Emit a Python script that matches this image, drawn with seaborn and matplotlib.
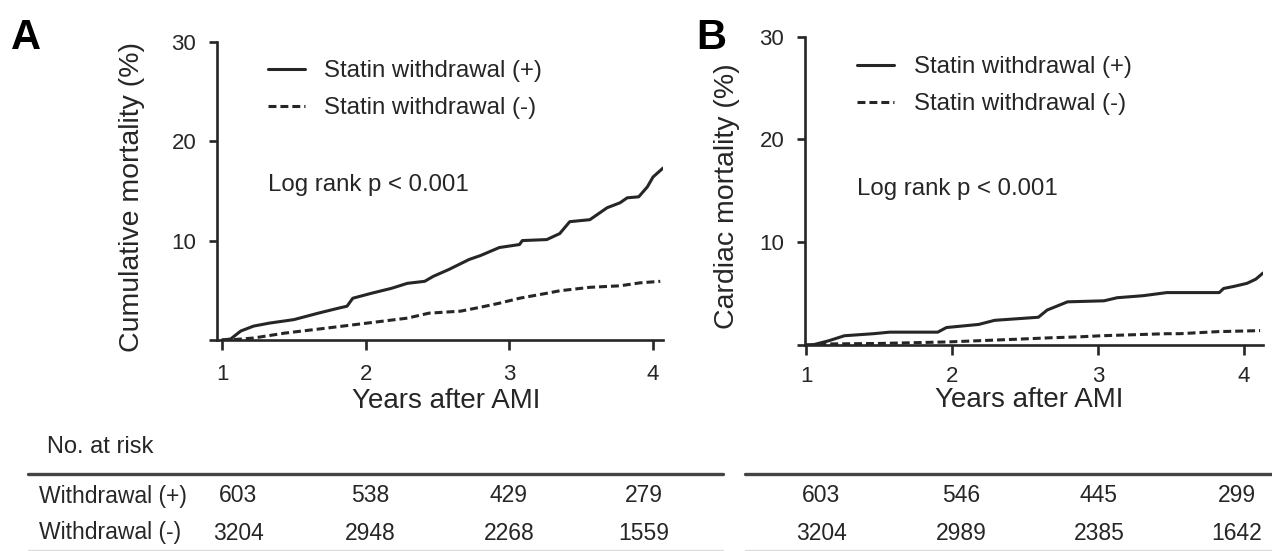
import matplotlib
matplotlib.use("Agg")
import matplotlib.pyplot as plt
from matplotlib.lines import Line2D
import seaborn as sns
import pandas as pd

# ---------------- data ----------------
groups = ["Statin withdrawal (+)", "Statin withdrawal (-)"]

a_pos_years = [1.00, 1.06, 1.13, 1.22, 1.33, 1.50, 1.67, 1.81, 1.87, 1.91, 2.04, 2.18, 2.29, 2.41,
               2.47, 2.58, 2.72, 2.80, 2.93, 3.07, 3.09, 3.26, 3.35, 3.42, 3.56, 3.68, 3.77, 3.82,
               3.90, 3.96, 4.00, 4.07]
a_pos_pct = [0.0, 0.1, 0.9, 1.4, 1.7, 2.05, 2.7, 3.2, 3.4, 4.2, 4.7, 5.2, 5.7, 5.9,
             6.4, 7.1, 8.1, 8.5, 9.3, 9.6, 10.0, 10.1, 10.7, 11.9, 12.1, 13.3, 13.8, 14.3,
             14.4, 15.4, 16.4, 17.3]
a_neg_years = [1.00, 1.05, 1.22, 1.44, 1.73, 2.01, 2.29, 2.44, 2.66, 2.80, 2.93, 3.07, 3.26, 3.35,
               3.56, 3.77, 3.91, 4.05]
a_neg_pct = [0.0, 0.0, 0.2, 0.7, 1.2, 1.7, 2.2, 2.7, 2.9, 3.3, 3.7, 4.2, 4.7, 4.95,
             5.3, 5.45, 5.75, 5.9]

b_pos_years = [1.00, 1.04, 1.15, 1.26, 1.46, 1.57, 1.90, 1.96, 2.18, 2.29, 2.59, 2.65, 2.79, 3.04,
               3.13, 3.31, 3.47, 3.60, 3.83, 3.86, 3.93, 4.02, 4.08, 4.13]
b_pos_pct = [0.0, 0.0, 0.4, 0.9, 1.1, 1.25, 1.25, 1.7, 2.0, 2.4, 2.7, 3.4, 4.2, 4.3,
             4.6, 4.8, 5.1, 5.1, 5.1, 5.5, 5.7, 6.0, 6.4, 7.0]
b_neg_years = [1.00, 1.15, 1.50, 1.97, 2.42, 2.67, 2.88, 3.02, 3.47, 3.56, 3.82, 4.11]
b_neg_pct = [0.0, 0.1, 0.15, 0.3, 0.55, 0.7, 0.8, 0.9, 1.1, 1.1, 1.3, 1.4]

x_ticks = [1, 2, 3, 4]
y_ticks = [0, 10, 20, 30]
y_tick_labels = ["", "10", "20", "30"]

risk_rows = ["Withdrawal (+)", "Withdrawal (-)"]
a_risk_pos = [603, 538, 429, 279]
a_risk_neg = [3204, 2948, 2268, 1559]
b_risk_pos = [603, 546, 445, 299]
b_risk_neg = [3204, 2989, 2385, 1642]

panel_letters = ["A", "B"]
y_labels = ["Cumulative mortality (%)", "Cardiac mortality (%)"]
x_label = "Years after AMI"
logrank = "Log rank p < 0.001"

# ---------------- style ----------------
sns.set_theme(style="ticks")
plt.rcParams["font.family"] = ["Liberation Sans", "DejaVu Sans"]
ink = "#262626"
plt.rcParams.update({
    "axes.edgecolor": ink, "axes.labelcolor": ink, "text.color": ink,
    "xtick.color": ink, "ytick.color": ink,
})

W, H = 1272, 551
fig = plt.figure(figsize=(W / 100, H / 100), dpi=100)

def fx(px):
    return px / W

def fy(py):
    return 1 - py / H

# axes rectangles in pixel geometry (left, top, right, bottom)
geo = [(217, 41.7, 663, 340), (805, 36.7, 1263, 345)]
xlims = [(0.965, 4.069), (0.99, 4.13)]

curves = [
    [(a_pos_years, a_pos_pct), (a_neg_years, a_neg_pct)],
    [(b_pos_years, b_pos_pct), (b_neg_years, b_neg_pct)],
]
ylab_coords = [(-0.162, 0.48), (-0.142, 0.482)]
xlab_coords = [(0.513, -0.16), (0.489, -0.135)]
letter_pos = [(11, 18), (696, 18)]
logrank_y = [0.518, 0.505]
xtick_pad = [10, 8]

axes = []
for i in range(2):
    l, t, r, b = geo[i]
    ax = fig.add_axes([fx(l), fy(b), fx(r) - fx(l), fy(t) - fy(b)])
    axes.append(ax)
    styles = ["-", (0, (2.6, 1.3))]
    for (xs, ys), g, ls in zip(curves[i], groups, styles):
        df = pd.DataFrame({"years": xs, "pct": ys})
        sns.lineplot(data=df, x="years", y="pct", ax=ax, color=ink, linewidth=2.2,
                     linestyle=ls, label=g, estimator=None, sort=False)
    ax.set_xlim(*xlims[i])
    ax.set_ylim(0, 30)
    ax.set_xticks(x_ticks)
    ax.set_xticklabels([str(v) for v in x_ticks])
    ax.set_yticks(y_ticks)
    ax.set_yticklabels(y_tick_labels)
    sns.despine(ax=ax)
    for s in ["left", "bottom"]:
        ax.spines[s].set_linewidth(1.9)
    ax.tick_params(axis="x", length=7, width=1.9, pad=xtick_pad[i], labelsize=16)
    ax.tick_params(axis="y", length=6, width=1.9, pad=9, labelsize=16)
    ax.set_xlabel(x_label, fontsize=20)
    ax.set_ylabel(y_labels[i], fontsize=20.5)
    ax.yaxis.set_label_coords(*ylab_coords[i])
    ax.xaxis.set_label_coords(*xlab_coords[i])
    leg = ax.legend(loc="upper left", bbox_to_anchor=(0.114, 0.937), frameon=False,
                    fontsize=17.3, handlelength=1.55, handletextpad=0.8,
                    labelspacing=0.62, borderpad=0, borderaxespad=0)
    for line in leg.get_lines():
        line.set_linewidth(2.2)
    ax.text(0.114, logrank_y[i], logrank, transform=ax.transAxes, fontsize=17.3,
            ha="left", va="center")
    fig.text(fx(letter_pos[i][0]), fy(letter_pos[i][1]), panel_letters[i],
             fontsize=30, fontweight="bold", ha="left", va="top", color="black")

# ---------------- number-at-risk table ----------------
fs_tab = 16.5
fig.text(fx(47), fy(447), "No. at risk", fontsize=17, ha="left", va="center")
row_y = [496, 533]
for py, lab in zip(row_y, risk_rows):
    fig.text(fx(39), fy(py), lab, fontsize=fs_tab, ha="left", va="center")

col_a = [238, 370, 509, 644]
col_b = [821, 961, 1099, 1237]
for cols, vals_pos, vals_neg in [(col_a, a_risk_pos, a_risk_neg), (col_b, b_risk_pos, b_risk_neg)]:
    for cx, vp, vn in zip(cols, vals_pos, vals_neg):
        fig.text(fx(cx), fy(row_y[0]), str(vp), fontsize=fs_tab, ha="center", va="center")
        fig.text(fx(cx), fy(row_y[1]), str(vn), fontsize=fs_tab, ha="center", va="center")

for x0, x1 in [(28, 723), (745, 1272)]:
    fig.add_artist(Line2D([fx(x0), fx(x1)], [fy(474), fy(474)], color="#444444",
                          linewidth=2.4, transform=fig.transFigure))
    fig.add_artist(Line2D([fx(x0), fx(x1)], [fy(549.5), fy(549.5)], color="#dddddd",
                          linewidth=1.0, transform=fig.transFigure))

fig.savefig("out.png", dpi=100)
